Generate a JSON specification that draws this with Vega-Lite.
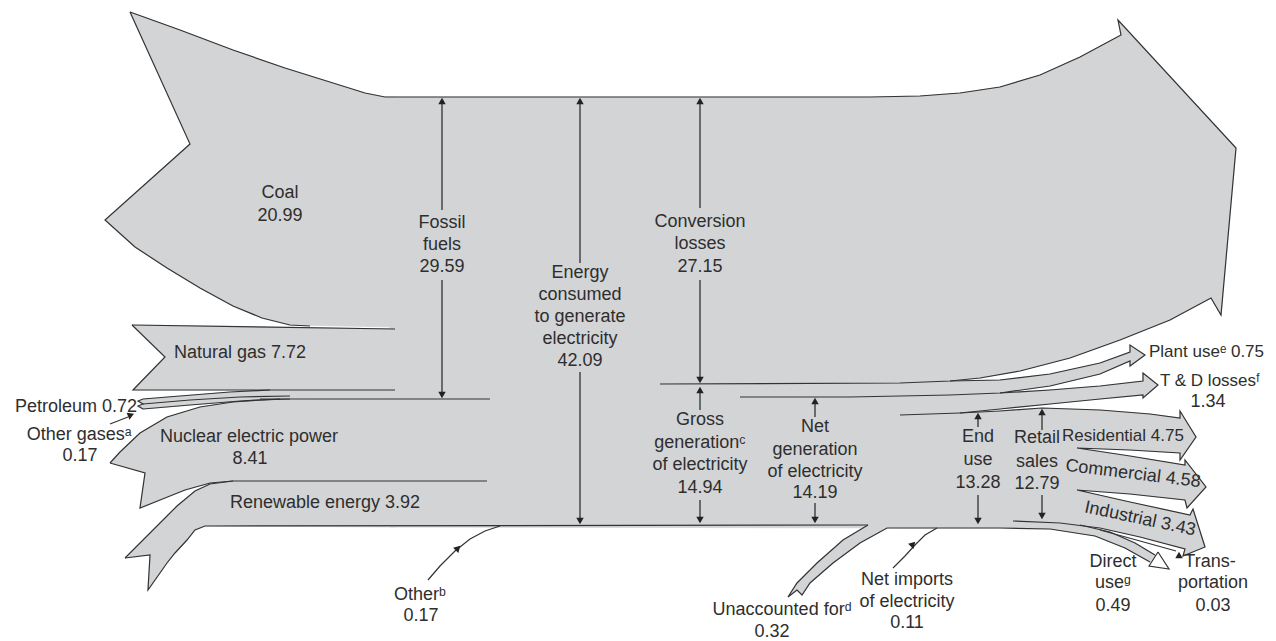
{
  "$schema": "https://vega.github.io/schema/vega-lite/v6.json",
  "width": 1276,
  "height": 641,
  "autosize": {"type": "none"},
  "padding": 0,
  "background": "white",
  "config": {"view": {"stroke": null}},
  "datasets": {
    "fills": [
      {"id":"central","x":38.5,"y":42.8},{"id":"central","x":87.0,"y":42.8},{"id":"central","x":92.0,"y":42.9},{"id":"central","x":96.0,"y":43.2},{"id":"central","x":100.0,"y":43.8},{"id":"central","x":104.0,"y":45.0},{"id":"central","x":108.0,"y":46.8},{"id":"central","x":112.1,"y":49.0},{"id":"central","x":111.8,"y":50.5},{"id":"central","x":123.6,"y":37.7},{"id":"central","x":122.1,"y":21.0},{"id":"central","x":121.1,"y":22.7},{"id":"central","x":117.0,"y":20.5},{"id":"central","x":112.0,"y":18.5},{"id":"central","x":107.0,"y":16.7},{"id":"central","x":102.0,"y":15.4},{"id":"central","x":98.0,"y":14.7},{"id":"central","x":95.0,"y":14.4},{"id":"central","x":95.5,"y":14.1},{"id":"central","x":95.5,"y":-0.3},{"id":"central","x":39.0,"y":-0.2},{"id":"central","x":39.0,"y":42.8},
      {"id":"coal","x":13.0,"y":51.3},{"id":"coal","x":18.0,"y":49.5},{"id":"coal","x":23.3,"y":47.5},{"id":"coal","x":28.5,"y":45.7},{"id":"coal","x":33.3,"y":44.2},{"id":"coal","x":36.5,"y":43.2},{"id":"coal","x":38.5,"y":42.8},{"id":"coal","x":39.5,"y":42.8},{"id":"coal","x":39.5,"y":19.8},{"id":"coal","x":29.0,"y":20.0},{"id":"coal","x":26.2,"y":20.7},{"id":"coal","x":23.3,"y":21.9},{"id":"coal","x":20.0,"y":23.7},{"id":"coal","x":16.7,"y":25.7},{"id":"coal","x":13.5,"y":27.8},{"id":"coal","x":10.5,"y":30.5},{"id":"coal","x":19.0,"y":38.1},
      {"id":"gas","x":13.2,"y":20.0},{"id":"gas","x":39.5,"y":19.6},{"id":"gas","x":39.5,"y":13.5},{"id":"gas","x":13.3,"y":13.5},{"id":"gas","x":16.5,"y":16.8},
      {"id":"pet","x":14.3,"y":12.6},{"id":"pet","x":18.0,"y":12.9},{"id":"pet","x":23.0,"y":13.3},{"id":"pet","x":27.0,"y":13.5},{"id":"pet","x":39.5,"y":13.5},{"id":"pet","x":39.5,"y":12.6},{"id":"pet","x":28.0,"y":12.6},{"id":"pet","x":24.0,"y":12.4},{"id":"pet","x":19.0,"y":12.0},{"id":"pet","x":14.3,"y":11.6},{"id":"pet","x":13.8,"y":11.9},{"id":"pet","x":14.3,"y":12.1},{"id":"pet","x":13.8,"y":12.4},
      {"id":"nuc","x":11.0,"y":6.2},{"id":"nuc","x":12.0,"y":7.3},{"id":"nuc","x":14.0,"y":9.2},{"id":"nuc","x":16.7,"y":10.8},{"id":"nuc","x":20.0,"y":11.8},{"id":"nuc","x":23.3,"y":12.3},{"id":"nuc","x":26.0,"y":12.5},{"id":"nuc","x":39.5,"y":12.6},{"id":"nuc","x":39.5,"y":4.4},{"id":"nuc","x":23.3,"y":4.4},{"id":"nuc","x":21.0,"y":4.2},{"id":"nuc","x":18.5,"y":3.5},{"id":"nuc","x":16.5,"y":2.7},{"id":"nuc","x":14.0,"y":1.7},{"id":"nuc","x":14.5,"y":5.2},
      {"id":"ren","x":12.5,"y":-3.3},{"id":"ren","x":14.0,"y":-1.8},{"id":"ren","x":15.0,"y":-0.8},{"id":"ren","x":16.5,"y":0.7},{"id":"ren","x":17.7,"y":1.9},{"id":"ren","x":19.5,"y":3.4},{"id":"ren","x":21.0,"y":4.1},{"id":"ren","x":23.3,"y":4.4},{"id":"ren","x":39.5,"y":4.4},{"id":"ren","x":39.5,"y":-0.2},{"id":"ren","x":20.5,"y":-0.1},{"id":"ren","x":19.5,"y":-0.5},{"id":"ren","x":18.7,"y":-1.5},{"id":"ren","x":17.5,"y":-2.8},{"id":"ren","x":16.7,"y":-3.8},{"id":"ren","x":14.8,"y":-6.5},{"id":"ren","x":15.0,"y":-3.0},
      {"id":"unacc","x":86.8,"y":0.0},{"id":"unacc","x":84.3,"y":-1.5},{"id":"unacc","x":81.7,"y":-3.8},{"id":"unacc","x":79.7,"y":-5.8},{"id":"unacc","x":78.8,"y":-7.2},{"id":"unacc","x":79.7,"y":-6.5},{"id":"unacc","x":80.2,"y":-7.0},{"id":"unacc","x":81.0,"y":-5.8},{"id":"unacc","x":83.3,"y":-3.8},{"id":"unacc","x":86.0,"y":-1.8},{"id":"unacc","x":88.7,"y":-0.3},
      {"id":"plant","x":95.0,"y":14.4},{"id":"plant","x":100.0,"y":14.5},{"id":"plant","x":105.0,"y":15.1},{"id":"plant","x":110.0,"y":16.2},{"id":"plant","x":113.0,"y":17.3},{"id":"plant","x":113.0,"y":18.0},{"id":"plant","x":114.5,"y":17.0},{"id":"plant","x":113.0,"y":15.9},{"id":"plant","x":113.0,"y":16.4},{"id":"plant","x":110.0,"y":15.1},{"id":"plant","x":105.0,"y":13.9},{"id":"plant","x":100.0,"y":13.2},{"id":"plant","x":95.0,"y":13.0},
      {"id":"td","x":95.0,"y":13.0},{"id":"td","x":100.0,"y":13.2},{"id":"td","x":105.0,"y":13.5},{"id":"td","x":110.0,"y":13.9},{"id":"td","x":114.3,"y":14.4},{"id":"td","x":114.3,"y":15.2},{"id":"td","x":115.8,"y":14.0},{"id":"td","x":114.3,"y":12.7},{"id":"td","x":114.3,"y":13.0},{"id":"td","x":110.0,"y":12.6},{"id":"td","x":105.0,"y":12.1},{"id":"td","x":100.0,"y":11.6},{"id":"td","x":96.0,"y":11.2},{"id":"td","x":95.0,"y":11.1},
      {"id":"retail","x":95.5,"y":11.2},{"id":"retail","x":100.0,"y":11.4},{"id":"retail","x":104.2,"y":11.7},{"id":"retail","x":110.0,"y":11.5},{"id":"retail","x":115.0,"y":11.1},{"id":"retail","x":118.0,"y":10.7},{"id":"retail","x":118.0,"y":11.4},{"id":"retail","x":119.6,"y":8.8},{"id":"retail","x":118.0,"y":6.5},{"id":"retail","x":118.0,"y":7.2},{"id":"retail","x":113.0,"y":7.5},{"id":"retail","x":107.7,"y":7.7},{"id":"retail","x":113.0,"y":6.9},{"id":"retail","x":118.5,"y":6.0},{"id":"retail","x":118.5,"y":6.5},{"id":"retail","x":120.6,"y":3.8},{"id":"retail","x":118.7,"y":1.7},{"id":"retail","x":118.5,"y":2.5},{"id":"retail","x":113.0,"y":3.1},{"id":"retail","x":107.7,"y":3.5},{"id":"retail","x":113.0,"y":2.3},{"id":"retail","x":119.0,"y":1.0},{"id":"retail","x":119.3,"y":1.6},{"id":"retail","x":120.5,"y":-2.2},{"id":"retail","x":118.3,"y":-3.1},{"id":"retail","x":118.5,"y":-2.4},{"id":"retail","x":114.0,"y":-1.2},{"id":"retail","x":110.0,"y":-0.3},{"id":"retail","x":106.0,"y":0.2},{"id":"retail","x":101.3,"y":0.4},{"id":"retail","x":95.5,"y":0.4},
      {"id":"direct","x":101.3,"y":0.4},{"id":"direct","x":108.0,"y":0.0},{"id":"direct","x":111.0,"y":-0.7},{"id":"direct","x":113.5,"y":-1.8},{"id":"direct","x":115.5,"y":-3.0},{"id":"direct","x":115.0,"y":-3.7},{"id":"direct","x":112.5,"y":-2.3},{"id":"direct","x":109.5,"y":-1.1},{"id":"direct","x":105.0,"y":-0.4},{"id":"direct","x":100.0,"y":-0.3},{"id":"direct","x":95.5,"y":-0.3},{"id":"direct","x":95.5,"y":0.4}
    ],
    "head": [
      {"id":"dh","x":115.8,"y":-2.7},{"id":"dh","x":116.9,"y":-4.4},{"id":"dh","x":114.9,"y":-4.1},{"id":"dh","x":115.8,"y":-2.7}
    ],
    "edges": [
      {"id":"top","x":13.0,"y":51.3},{"id":"top","x":18.0,"y":49.5},{"id":"top","x":23.3,"y":47.5},{"id":"top","x":28.5,"y":45.7},{"id":"top","x":33.3,"y":44.2},{"id":"top","x":36.5,"y":43.2},{"id":"top","x":38.5,"y":42.8},{"id":"top","x":87.0,"y":42.8},{"id":"top","x":92.0,"y":42.9},{"id":"top","x":96.0,"y":43.2},{"id":"top","x":100.0,"y":43.8},{"id":"top","x":104.0,"y":45.0},{"id":"top","x":108.0,"y":46.8},{"id":"top","x":112.1,"y":49.0},{"id":"top","x":111.8,"y":50.5},{"id":"top","x":123.6,"y":37.7},{"id":"top","x":122.1,"y":21.0},{"id":"top","x":121.1,"y":22.7},{"id":"top","x":117.0,"y":20.5},{"id":"top","x":112.0,"y":18.5},{"id":"top","x":107.0,"y":16.7},{"id":"top","x":102.0,"y":15.4},{"id":"top","x":98.0,"y":14.7},{"id":"top","x":95.0,"y":14.4},{"id":"top","x":90.0,"y":14.2},{"id":"top","x":66.0,"y":14.1},
      {"id":"coal","x":13.0,"y":51.3},{"id":"coal","x":19.0,"y":38.1},{"id":"coal","x":10.5,"y":30.5},{"id":"coal","x":13.5,"y":27.8},{"id":"coal","x":16.7,"y":25.7},{"id":"coal","x":20.0,"y":23.7},{"id":"coal","x":23.3,"y":21.9},{"id":"coal","x":26.2,"y":20.7},{"id":"coal","x":29.0,"y":20.0},{"id":"coal","x":31.0,"y":19.9},
      {"id":"gasTop","x":13.2,"y":20.0},{"id":"gasTop","x":39.5,"y":19.6},
      {"id":"gas","x":13.2,"y":20.0},{"id":"gas","x":16.5,"y":16.8},{"id":"gas","x":13.3,"y":13.5},{"id":"gas","x":39.5,"y":13.5},
      {"id":"pet1","x":14.3,"y":12.6},{"id":"pet1","x":18.0,"y":12.9},{"id":"pet1","x":23.0,"y":13.3},{"id":"pet1","x":27.0,"y":13.5},
      {"id":"pet2","x":14.3,"y":12.1},{"id":"pet2","x":19.0,"y":12.5},{"id":"pet2","x":24.0,"y":12.8},{"id":"pet2","x":29.0,"y":12.9},
      {"id":"pet3","x":14.3,"y":11.6},{"id":"pet3","x":19.0,"y":12.0},{"id":"pet3","x":24.0,"y":12.4},{"id":"pet3","x":28.0,"y":12.6},
      {"id":"zig","x":14.3,"y":12.6},{"id":"zig","x":13.8,"y":12.4},{"id":"zig","x":14.3,"y":12.1},{"id":"zig","x":13.8,"y":11.9},{"id":"zig","x":14.3,"y":11.6},
      {"id":"fossil","x":26.0,"y":12.6},{"id":"fossil","x":49.0,"y":12.6},
      {"id":"nucTop","x":11.0,"y":6.2},{"id":"nucTop","x":12.0,"y":7.3},{"id":"nucTop","x":14.0,"y":9.2},{"id":"nucTop","x":16.7,"y":10.8},{"id":"nucTop","x":20.0,"y":11.8},{"id":"nucTop","x":23.3,"y":12.3},{"id":"nucTop","x":26.0,"y":12.5},{"id":"nucTop","x":29.0,"y":12.6},
      {"id":"nucTail","x":11.0,"y":6.2},{"id":"nucTail","x":14.5,"y":5.2},{"id":"nucTail","x":14.0,"y":1.7},{"id":"nucTail","x":16.5,"y":2.7},{"id":"nucTail","x":18.5,"y":3.5},{"id":"nucTail","x":21.0,"y":4.2},{"id":"nucTail","x":23.3,"y":4.4},{"id":"nucTail","x":48.7,"y":4.4},
      {"id":"renTop","x":12.5,"y":-3.3},{"id":"renTop","x":14.0,"y":-1.8},{"id":"renTop","x":15.0,"y":-0.8},{"id":"renTop","x":16.5,"y":0.7},{"id":"renTop","x":17.7,"y":1.9},{"id":"renTop","x":19.5,"y":3.4},{"id":"renTop","x":21.0,"y":4.1},{"id":"renTop","x":23.3,"y":4.4},
      {"id":"renTail","x":12.5,"y":-3.3},{"id":"renTail","x":15.0,"y":-3.0},{"id":"renTail","x":14.8,"y":-6.5},{"id":"renTail","x":16.7,"y":-3.8},{"id":"renTail","x":17.5,"y":-2.8},{"id":"renTail","x":18.7,"y":-1.5},{"id":"renTail","x":19.5,"y":-0.5},{"id":"renTail","x":20.5,"y":-0.1},{"id":"renTail","x":86.8,"y":0.0},
      {"id":"unacc","x":86.8,"y":0.0},{"id":"unacc","x":84.3,"y":-1.5},{"id":"unacc","x":81.7,"y":-3.8},{"id":"unacc","x":79.7,"y":-5.8},{"id":"unacc","x":78.8,"y":-7.2},{"id":"unacc","x":79.7,"y":-6.5},{"id":"unacc","x":80.2,"y":-7.0},{"id":"unacc","x":81.0,"y":-5.8},{"id":"unacc","x":83.3,"y":-3.8},{"id":"unacc","x":86.0,"y":-1.8},{"id":"unacc","x":88.7,"y":-0.3},{"id":"unacc","x":93.7,"y":-0.3},{"id":"unacc","x":100.0,"y":-0.3},{"id":"unacc","x":105.0,"y":-0.4},{"id":"unacc","x":109.5,"y":-1.1},{"id":"unacc","x":112.5,"y":-2.3},{"id":"unacc","x":115.0,"y":-3.7},
      {"id":"other","x":42.8,"y":-5.5},{"id":"other","x":44.0,"y":-4.1},{"id":"other","x":45.5,"y":-2.6},{"id":"other","x":47.0,"y":-1.4},{"id":"other","x":48.5,"y":-0.6},{"id":"other","x":50.0,"y":-0.1},
      {"id":"netimp","x":89.3,"y":-4.3},{"id":"netimp","x":90.5,"y":-3.1},{"id":"netimp","x":91.5,"y":-2.0},{"id":"netimp","x":92.5,"y":-1.0},{"id":"netimp","x":93.7,"y":-0.3},
      {"id":"plant","x":95.0,"y":14.4},{"id":"plant","x":100.0,"y":14.5},{"id":"plant","x":105.0,"y":15.1},{"id":"plant","x":110.0,"y":16.2},{"id":"plant","x":113.0,"y":17.3},{"id":"plant","x":113.0,"y":18.0},{"id":"plant","x":114.5,"y":17.0},{"id":"plant","x":113.0,"y":15.9},{"id":"plant","x":113.0,"y":16.4},{"id":"plant","x":110.0,"y":15.1},{"id":"plant","x":105.0,"y":13.9},{"id":"plant","x":100.0,"y":13.2},{"id":"plant","x":95.0,"y":13.0},{"id":"plant","x":85.0,"y":12.8},{"id":"plant","x":74.0,"y":12.8},
      {"id":"td","x":100.0,"y":13.2},{"id":"td","x":105.0,"y":13.5},{"id":"td","x":110.0,"y":13.9},{"id":"td","x":114.3,"y":14.4},{"id":"td","x":114.3,"y":15.2},{"id":"td","x":115.8,"y":14.0},{"id":"td","x":114.3,"y":12.7},{"id":"td","x":114.3,"y":13.0},{"id":"td","x":110.0,"y":12.6},{"id":"td","x":105.0,"y":12.1},{"id":"td","x":100.0,"y":11.6},{"id":"td","x":96.0,"y":11.2},
      {"id":"end","x":90.0,"y":11.0},{"id":"end","x":96.0,"y":11.2},{"id":"end","x":100.0,"y":11.4},{"id":"end","x":104.2,"y":11.7},{"id":"end","x":110.0,"y":11.5},{"id":"end","x":115.0,"y":11.1},{"id":"end","x":118.0,"y":10.7},{"id":"end","x":118.0,"y":11.4},{"id":"end","x":119.6,"y":8.8},{"id":"end","x":118.0,"y":6.5},{"id":"end","x":118.0,"y":7.2},{"id":"end","x":113.0,"y":7.5},{"id":"end","x":107.7,"y":7.7},{"id":"end","x":113.0,"y":6.9},{"id":"end","x":118.5,"y":6.0},{"id":"end","x":118.5,"y":6.5},{"id":"end","x":120.6,"y":3.8},{"id":"end","x":118.7,"y":1.7},{"id":"end","x":118.5,"y":2.5},{"id":"end","x":113.0,"y":3.1},{"id":"end","x":107.7,"y":3.5},{"id":"end","x":113.0,"y":2.3},{"id":"end","x":119.0,"y":1.0},{"id":"end","x":119.3,"y":1.6},{"id":"end","x":120.5,"y":-2.2},{"id":"end","x":118.3,"y":-3.1},{"id":"end","x":118.5,"y":-2.4},{"id":"end","x":114.0,"y":-1.2},{"id":"end","x":110.0,"y":-0.3},{"id":"end","x":106.0,"y":0.2},{"id":"end","x":101.3,"y":0.4},
      {"id":"dirTop","x":108.0,"y":0.0},{"id":"dirTop","x":111.0,"y":-0.7},{"id":"dirTop","x":113.5,"y":-1.8},{"id":"dirTop","x":115.5,"y":-3.0},
      {"id":"trans","x":110.0,"y":-0.5},{"id":"trans","x":114.0,"y":-1.6},{"id":"trans","x":117.6,"y":-2.6},
      {"id":"ogas","x":11.0,"y":10.1},{"id":"ogas","x":12.8,"y":10.8}
    ],
    "rules": [
      {"x":44.2,"y":42.5,"y2":31.5},{"x":44.2,"y":24.5,"y2":12.9},
      {"x":58.0,"y":42.5,"y2":26.2},{"x":58.0,"y":15.3,"y2":0.3},
      {"x":70.0,"y":42.5,"y2":31.7},{"x":70.0,"y":24.5,"y2":14.4},
      {"x":70.0,"y":13.5,"y2":11.5},{"x":70.0,"y":2.5,"y2":0.5},
      {"x":81.5,"y":12.5,"y2":10.8},{"x":81.5,"y":2.2,"y2":0.5},
      {"x":97.8,"y":11.0,"y2":9.8},{"x":97.8,"y":3.0,"y2":0.3},
      {"x":104.2,"y":11.5,"y2":9.5},{"x":104.2,"y":3.0,"y2":0.9}
    ],
    "up": [
      {"x":44.2,"y":42.4},{"x":58.0,"y":42.4},{"x":70.0,"y":42.4},{"x":70.0,"y":13.5},{"x":81.5,"y":12.4},{"x":97.8,"y":10.9},{"x":104.2,"y":11.3},{"x":117.9,"y":-3.0}
    ],
    "down": [
      {"x":44.2,"y":13.0},{"x":58.0,"y":0.4},{"x":70.0,"y":14.5},{"x":70.0,"y":0.5},{"x":81.5,"y":0.5},{"x":97.8,"y":0.4},{"x":104.2,"y":0.9}
    ],
    "tri22": [{"x":13.1,"y":11.0}],
    "tri45": [{"x":45.8,"y":-2.3},{"x":91.3,"y":-1.9}],
    "labC": [
      {"t":"Coal","x":28.0,"y":33.2},{"t":"20.99","x":28.0,"y":30.9},
      {"t":"Fossil","x":44.2,"y":30.2},{"t":"fuels","x":44.2,"y":28.0},{"t":"29.59","x":44.2,"y":25.8},
      {"t":"Energy","x":58.0,"y":25.2},{"t":"consumed","x":58.0,"y":23.0},{"t":"to generate","x":58.0,"y":20.8},{"t":"electricity","x":58.0,"y":18.6},{"t":"42.09","x":58.0,"y":16.4},
      {"t":"Conversion","x":70.0,"y":30.3},{"t":"losses","x":70.0,"y":28.1},{"t":"27.15","x":70.0,"y":25.8},
      {"t":"Natural gas 7.72","x":24.0,"y":17.2},
      {"t":"Nuclear electric power","x":24.9,"y":8.8},{"t":"8.41","x":25.0,"y":6.6},
      {"t":"Renewable energy 3.92","x":32.5,"y":2.2},
      {"t":"Other gasesᵃ","x":7.9,"y":9.0},{"t":"0.17","x":8.0,"y":6.9},
      {"t":"Gross","x":70.0,"y":10.5},{"t":"generationᶜ","x":70.0,"y":8.2},{"t":"of electricity","x":70.0,"y":6.0},{"t":"14.94","x":70.0,"y":3.7},
      {"t":"Net","x":81.5,"y":9.8},{"t":"generation","x":81.5,"y":7.5},{"t":"of electricity","x":81.5,"y":5.3},{"t":"14.19","x":81.5,"y":3.2},
      {"t":"End","x":97.8,"y":8.8},{"t":"use","x":97.8,"y":6.5},{"t":"13.28","x":97.8,"y":4.2},
      {"t":"Retail","x":103.7,"y":8.7},{"t":"sales","x":103.7,"y":6.3},{"t":"12.79","x":103.7,"y":4.1},
      {"t":"Otherᵇ","x":42.0,"y":-7.0},{"t":"0.17","x":42.1,"y":-9.1},
      {"t":"Unaccounted forᵈ","x":78.2,"y":-8.5},{"t":"0.32","x":77.2,"y":-10.7},
      {"t":"Net imports","x":90.7,"y":-5.5},{"t":"of electricity","x":90.7,"y":-7.7},{"t":"0.11","x":90.7,"y":-9.8},
      {"t":"Direct","x":111.3,"y":-3.7},{"t":"useᵍ","x":111.3,"y":-5.8},{"t":"0.49","x":111.3,"y":-8.1},
      {"t":"Trans-","x":121.0,"y":-3.7},{"t":"portation","x":121.3,"y":-5.8},{"t":"0.03","x":121.3,"y":-8.1},
      {"t":"1.34","x":120.8,"y":12.3}
    ],
    "labL": [
      {"t":"Plant useᵉ 0.75","x":114.9,"y":17.3},
      {"t":"T & D lossesᶠ","x":116.0,"y":14.4},
      {"t":"Residential 4.75","x":106.2,"y":8.9}
    ],
    "labR": [
      {"t":"Petroleum 0.72","x":13.7,"y":11.8}
    ],
    "labCom": [{"t":"Commercial 4.58","x":113.3,"y":5.1}],
    "labInd": [{"t":"Industrial 3.43","x":114.0,"y":0.6}]
  },
  "encoding": {
    "x": {"field": "x", "type": "quantitative", "scale": {"domain": [0, 127.6], "nice": false, "zero": false}, "axis": null},
    "y": {"field": "y", "type": "quantitative", "scale": {"domain": [-11.6, 52.5], "nice": false, "zero": false}, "axis": null}
  },
  "layer": [
    {
      "data": {"name": "fills"},
      "transform": [{"window": [{"op": "row_number", "as": "i"}], "groupby": ["id"]}],
      "mark": {"type": "line", "fill": "#d3d4d6", "stroke": "#d3d4d6", "strokeWidth": 0.8},
      "encoding": {"detail": {"field": "id"}, "order": {"field": "i", "type": "quantitative"}}
    },
    {
      "data": {"name": "edges"},
      "transform": [{"window": [{"op": "row_number", "as": "i"}], "groupby": ["id"]}],
      "mark": {"type": "line", "stroke": "#333333", "strokeWidth": 1.2},
      "encoding": {"detail": {"field": "id"}, "order": {"field": "i", "type": "quantitative"}}
    },
    {
      "data": {"name": "head"},
      "transform": [{"window": [{"op": "row_number", "as": "i"}], "groupby": ["id"]}],
      "mark": {"type": "line", "fill": "#ffffff", "stroke": "#333333", "strokeWidth": 1.2},
      "encoding": {"detail": {"field": "id"}, "order": {"field": "i", "type": "quantitative"}}
    },
    {
      "data": {"name": "rules"},
      "mark": {"type": "rule", "stroke": "#222222", "strokeWidth": 1.2},
      "encoding": {"y2": {"field": "y2"}}
    },
    {
      "data": {"name": "up"},
      "mark": {"type": "point", "shape": "triangle-up", "filled": true, "fill": "#222222", "stroke": null, "size": 55, "opacity": 1},
      "encoding": {}
    },
    {
      "data": {"name": "down"},
      "mark": {"type": "point", "shape": "triangle-down", "filled": true, "fill": "#222222", "stroke": null, "size": 55, "opacity": 1},
      "encoding": {}
    },
    {
      "data": {"name": "tri22"},
      "mark": {"type": "point", "shape": "triangle-right", "angle": -22, "filled": true, "fill": "#222222", "stroke": null, "size": 55, "opacity": 1},
      "encoding": {}
    },
    {
      "data": {"name": "tri45"},
      "mark": {"type": "point", "shape": "triangle-right", "angle": -45, "filled": true, "fill": "#222222", "stroke": null, "size": 55, "opacity": 1},
      "encoding": {}
    },
    {
      "data": {"name": "labC"},
      "mark": {"type": "text", "font": "Liberation Sans", "fontSize": 18, "fill": "#2e2e2e", "align": "center", "baseline": "middle"},
      "encoding": {"text": {"field": "t"}}
    },
    {
      "data": {"name": "labL"},
      "mark": {"type": "text", "font": "Liberation Sans", "fontSize": 17, "fill": "#2e2e2e", "align": "left", "baseline": "middle"},
      "encoding": {"text": {"field": "t"}}
    },
    {
      "data": {"name": "labR"},
      "mark": {"type": "text", "font": "Liberation Sans", "fontSize": 18, "fill": "#2e2e2e", "align": "right", "baseline": "middle"},
      "encoding": {"text": {"field": "t"}}
    },
    {
      "data": {"name": "labCom"},
      "mark": {"type": "text", "font": "Liberation Sans", "fontSize": 18, "fill": "#2e2e2e", "align": "center", "baseline": "middle", "angle": 7},
      "encoding": {"text": {"field": "t"}}
    },
    {
      "data": {"name": "labInd"},
      "mark": {"type": "text", "font": "Liberation Sans", "fontSize": 18, "fill": "#2e2e2e", "align": "center", "baseline": "middle", "angle": 12},
      "encoding": {"text": {"field": "t"}}
    }
  ]
}
